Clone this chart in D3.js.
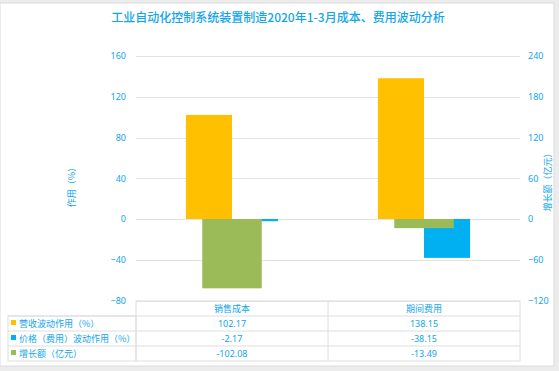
<html>
<head>
<meta charset="utf-8">
<script src="https://cdn.jsdelivr.net/npm/d3@7"></script>
<style>
  body { margin: 0; background: #ececec; }
  text { font-family: 'Noto Sans CJK SC', 'Noto Sans', sans-serif; }
</style>
</head>
<body>
<script>
// chart data
var categories = ['销售成本', '期间费用'];
var seriesNames = ['营收波动作用（%）', '价格（费用）波动作用（%）', '增长额（亿元）'];
var revenueEffect = [102.17, 138.15];
var priceEffect = [-2.17, -38.15];
var growthAmount = [-102.08, -13.49];
var leftTicks = [-80, -40, 0, 40, 80, 120, 160];
var rightTicks = [-120, -60, 0, 60, 120, 180, 240];

var W = 559, H = 371;
var colors = ['#FFC000', '#00B0F0', '#9BBB59'];
var txt = '#12a5ec';

var svg = d3.select('body').append('svg')
    .attr('width', W)
    .attr('height', H);

// panel + frame
svg.append('rect').attr('x', 0).attr('y', 0).attr('width', W).attr('height', H).attr('fill', '#ececec');
svg.append('rect').attr('x', 0).attr('y', 3).attr('width', 554).attr('height', 363)
    .attr('fill', 'white').attr('stroke', '#dcdcdc').attr('stroke-width', 1);

svg.append('text')
    .attr('x', 278).attr('y', 22)
    .attr('text-anchor', 'middle')
    .attr('font-size', 12)
    .attr('font-weight', 500)
    .attr('fill', txt)
    .text('工业自动化控制系统装置制造2020年1-3月成本、费用波动分析');

var plotL = 136, plotR = 520, plotT = 56, plotB = 300.5;

var x0 = d3.scaleBand().domain(categories).range([plotL, plotR]);
var bw = x0.bandwidth();
var x1 = d3.scaleBand().domain([0, 1]).range([bw * 0.26, bw * 0.74]);
var yL = d3.scaleLinear().domain([-80, 160]).range([plotB, plotT]);
var yR = d3.scaleLinear().domain([-120, 240]).range([plotB, plotT]);

// gridlines
svg.append('g').selectAll('line').data(leftTicks).join('line')
    .attr('x1', plotL).attr('x2', plotR)
    .attr('y1', function(d) { return Math.round(yL(d)) + 0.5; })
    .attr('y2', function(d) { return Math.round(yL(d)) + 0.5; })
    .attr('stroke', '#e2e2e2').attr('stroke-width', 1);

// axes
var axL = svg.append('g')
    .attr('transform', 'translate(' + (plotL - 10) + ',0)')
    .call(d3.axisLeft(yL).tickValues(leftTicks).tickSize(0).tickPadding(0));
var axR = svg.append('g')
    .attr('transform', 'translate(' + (plotR + 8) + ',0)')
    .call(d3.axisRight(yR).tickValues(rightTicks).tickSize(0).tickPadding(0));
[axL, axR].forEach(function(ax) {
    ax.select('.domain').remove();
    ax.selectAll('text').attr('fill', txt).attr('font-size', 9)
        .style('font-family', "'Noto Sans', sans-serif");
});

svg.append('text')
    .attr('transform', 'translate(75,185) rotate(-90)')
    .attr('text-anchor', 'middle')
    .attr('font-size', 9).attr('fill', txt)
    .text('作用（%）');
svg.append('text')
    .attr('transform', 'translate(551,180) rotate(-90)')
    .attr('text-anchor', 'middle')
    .attr('font-size', 9).attr('fill', txt)
    .text('增长额（亿元）');

// primary-axis bars
var primary = [revenueEffect, priceEffect];
primary.forEach(function(vals, s) {
    svg.append('g').selectAll('rect').data(vals).join('rect')
        .attr('x', function(d, i) { return x0(categories[i]) + x1(s); })
        .attr('width', x1.bandwidth())
        .attr('y', function(d) { return yL(Math.max(0, d)); })
        .attr('height', function(d) { return Math.abs(yL(d) - yL(0)); })
        .attr('fill', colors[s]);
});

// secondary-axis bars
var gw = bw * 0.31;
svg.append('g').selectAll('rect').data(growthAmount).join('rect')
    .attr('x', function(d, i) { return x0(categories[i]) + bw / 2 - gw / 2; })
    .attr('width', gw)
    .attr('y', function(d) { return yR(Math.max(0, d)); })
    .attr('height', function(d) { return Math.abs(yR(d) - yR(0)); })
    .attr('fill', colors[2]);

// data table
var rowH = 15, headTop = 301, legL = 8;
var tbl = svg.append('g');
var gridStroke = '#dedede';
tbl.append('rect').attr('x', plotL).attr('y', headTop).attr('width', plotR - plotL).attr('height', rowH * 4)
    .attr('fill', 'none').attr('stroke', gridStroke);
tbl.append('rect').attr('x', legL).attr('y', headTop + rowH).attr('width', plotL - legL).attr('height', rowH * 3)
    .attr('fill', 'none').attr('stroke', gridStroke);
[1, 2, 3].forEach(function(r) {
    tbl.append('line').attr('x1', legL).attr('x2', plotR)
        .attr('y1', headTop + r * rowH).attr('y2', headTop + r * rowH)
        .attr('stroke', gridStroke);
});
tbl.append('line').attr('x1', plotL + bw).attr('x2', plotL + bw)
    .attr('y1', headTop).attr('y2', headTop + rowH * 4).attr('stroke', gridStroke);

tbl.selectAll('text.head').data(categories).join('text')
    .attr('class', 'head')
    .attr('x', function(d) { return x0(d) + bw / 2; })
    .attr('y', headTop + 11)
    .attr('text-anchor', 'middle')
    .attr('font-size', 9).attr('fill', txt)
    .text(function(d) { return d; });

var rows = [revenueEffect, priceEffect, growthAmount];
rows.forEach(function(vals, r) {
    var cy = headTop + rowH * (r + 1);
    tbl.append('rect').attr('x', 11).attr('y', cy + 4).attr('width', 5).attr('height', 5).attr('fill', colors[r]);
    tbl.append('text').attr('x', 19).attr('y', cy + 11)
        .attr('font-size', 9).attr('fill', txt)
        .text(seriesNames[r]);
    tbl.selectAll('text.v' + r).data(vals).join('text')
        .attr('class', 'v' + r)
        .attr('x', function(d, i) { return x0(categories[i]) + bw / 2; })
        .attr('y', cy + 11)
        .attr('text-anchor', 'middle')
        .attr('font-size', 9).attr('fill', txt)
        .style('font-family', "'Noto Sans', sans-serif")
        .text(function(d) { return d.toFixed(2); });
});
</script>
</body>
</html>
